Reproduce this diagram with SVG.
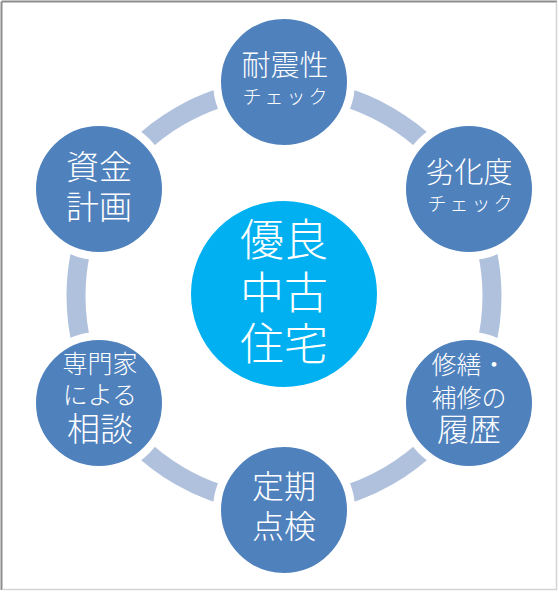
<svg xmlns="http://www.w3.org/2000/svg" width="559" height="592" viewBox="0 0 559 592">
<style>
.node{fill:#4F81BD;stroke:#FFFFFF;stroke-width:8}
.hub{fill:#00B0F0;stroke:#FFFFFF;stroke-width:4}
.arc{fill:none;stroke:#B0C1DE;stroke-width:19}
text{font-family:"Noto Sans CJK JP","Noto Sans CJK SC",sans-serif;fill:#FFFFFF;text-anchor:middle;font-weight:300}
.sub{font-size:19px;letter-spacing:3px}
</style>
<rect x="0" y="0" width="559" height="592" fill="#FFFFFF"/>
<line x1="1.5" y1="1.5" x2="557" y2="1.5" stroke="#8C8C8C" stroke-width="2"/>
<line x1="1.5" y1="1.5" x2="1.5" y2="590" stroke="#8C8C8C" stroke-width="2"/>
<line x1="556.5" y1="2" x2="556.5" y2="590" stroke="#D4D4D4" stroke-width="1.5"/>
<line x1="2" y1="589.5" x2="557" y2="589.5" stroke="#D4D4D4" stroke-width="1.5"/>
<g id="connectors">
<path class="arc" d="M284,88 A208,208 0 0 1 464.13,192"/>
<path class="arc" d="M464.13,192 A208,208 0 0 1 464.13,400"/>
<path class="arc" d="M464.13,400 A208,208 0 0 1 284,504"/>
<path class="arc" d="M284,504 A208,208 0 0 1 103.87,400"/>
<path class="arc" d="M103.87,400 A208,208 0 0 1 103.87,192"/>
<path class="arc" d="M103.87,192 A208,208 0 0 1 284,88"/>
</g>
<g id="hub">
<circle class="hub" cx="284" cy="294" r="95"/>
<text font-size="44" x="284" y="256">優良</text>
<text font-size="44" x="284" y="309">中古</text>
<text font-size="44" x="284" y="360">住宅</text>
</g>
<g id="node-taishin">
<circle class="node" cx="284" cy="82" r="67"/>
<text font-size="29" x="285" y="76">耐震性</text>
<text class="sub" x="286.5" y="104">チェック</text>
</g>
<g id="node-rekka">
<circle class="node" cx="469" cy="189" r="67"/>
<text font-size="29" x="469" y="183">劣化度</text>
<text class="sub" x="471.5" y="211">チェック</text>
</g>
<g id="node-rireki">
<circle class="node" cx="469" cy="403" r="67"/>
<text font-size="25" x="469" y="374">修繕・</text>
<text font-size="25" x="469" y="407">補修の</text>
<text font-size="32" x="469" y="441">履歴</text>
</g>
<g id="node-teiki">
<circle class="node" cx="284" cy="510" r="67"/>
<text font-size="32" x="284" y="498">定期</text>
<text font-size="32" x="284" y="538">点検</text>
</g>
<g id="node-soudan">
<circle class="node" cx="99" cy="403" r="67"/>
<text font-size="25" x="100" y="373">専門家</text>
<text font-size="25" x="100" y="404">による</text>
<text font-size="33" x="100" y="441">相談</text>
</g>
<g id="node-shikin">
<circle class="node" cx="99" cy="189" r="67"/>
<text font-size="33" x="99" y="179">資金</text>
<text font-size="33" x="99" y="219">計画</text>
</g>
</svg>
